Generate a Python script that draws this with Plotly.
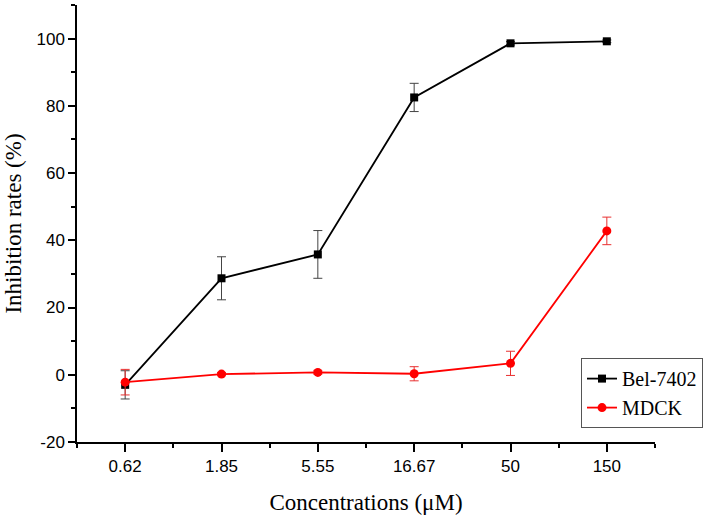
import plotly.graph_objects as go

concentrations = ["0.62", "1.85", "5.55", "16.67", "50", "150"]
bel_values = [-3.0, 28.7, 35.8, 82.5, 98.6, 99.2]
bel_errors = [4.2, 6.4, 7.1, 4.2, 0.5, 0.4]
mdck_values = [-2.2, 0.2, 0.7, 0.3, 3.4, 42.8]
mdck_errors = [3.8, 0.5, 0.5, 2.1, 3.6, 4.1]
y_ticks = [-20, 0, 20, 40, 60, 80, 100]
y_tick_labels = ["-20", "0", "20", "40", "60", "80", "100"]

x_pos = list(range(len(concentrations)))

fig = go.Figure()
fig.add_trace(go.Scatter(
    x=x_pos, y=bel_values, name="Bel-7402", mode="lines+markers",
    line=dict(color="black", width=1.8),
    marker=dict(symbol="square", size=8, color="black"),
    error_y=dict(type="data", array=bel_errors, visible=True,
                 color="#444444", thickness=1, width=4.5),
))
fig.add_trace(go.Scatter(
    x=x_pos, y=mdck_values, name="MDCK", mode="lines+markers",
    line=dict(color="#ff0000", width=1.8),
    marker=dict(symbol="circle", size=9, color="#ff0000"),
    error_y=dict(type="data", array=mdck_errors, visible=True,
                 color="#e83030", thickness=1, width=4.5),
))

fig.update_layout(
    width=718, height=518,
    margin=dict(l=77, r=63, t=5, b=76, autoexpand=False),
    paper_bgcolor="white", plot_bgcolor="white",
    showlegend=True,
    legend=dict(
        x=0.872, y=0.192, xanchor="left", yanchor="top",
        xref="paper", yref="paper",
        bordercolor="#555555", borderwidth=1, bgcolor="white",
        font=dict(family="Liberation Serif, Times New Roman, serif", size=20, color="black"),
        tracegroupgap=0,
    ),
)
fig.update_xaxes(
    range=[-0.5, 5.5],
    tickvals=x_pos, ticktext=concentrations,
    showline=True, linecolor="black", linewidth=1.5,
    ticks="outside", ticklen=8, tickwidth=1.5, tickcolor="black",
    minor=dict(dtick=0.5, tick0=-0.5, ticks="outside", ticklen=4, tickwidth=1.5, tickcolor="black"),
    showgrid=False, zeroline=False,
    tickfont=dict(family="Liberation Sans, Arial, sans-serif", size=17, color="black"),
    title=dict(text="Concentrations (μM)", standoff=19,
               font=dict(family="Liberation Serif, Times New Roman, serif", size=23, color="black")),
)
fig.update_yaxes(
    range=[-20, 110],
    tickvals=y_ticks, ticktext=y_tick_labels,
    showline=True, linecolor="black", linewidth=1.5,
    ticks="outside", ticklen=7, tickwidth=1.5, tickcolor="black",
    minor=dict(dtick=10, tick0=0, ticks="outside", ticklen=4, tickwidth=1.5, tickcolor="black"),
    showgrid=False, zeroline=False,
    tickfont=dict(family="Liberation Sans, Arial, sans-serif", size=17, color="black"),
    title=dict(text="Inhibition rates (%)", standoff=8,
               font=dict(family="Liberation Serif, Times New Roman, serif", size=23, color="black")),
)

fig.write_html("out.html", config={"displayModeBar": False},
               post_script="document.body.style.margin='0';document.body.style.overflow='hidden';")
